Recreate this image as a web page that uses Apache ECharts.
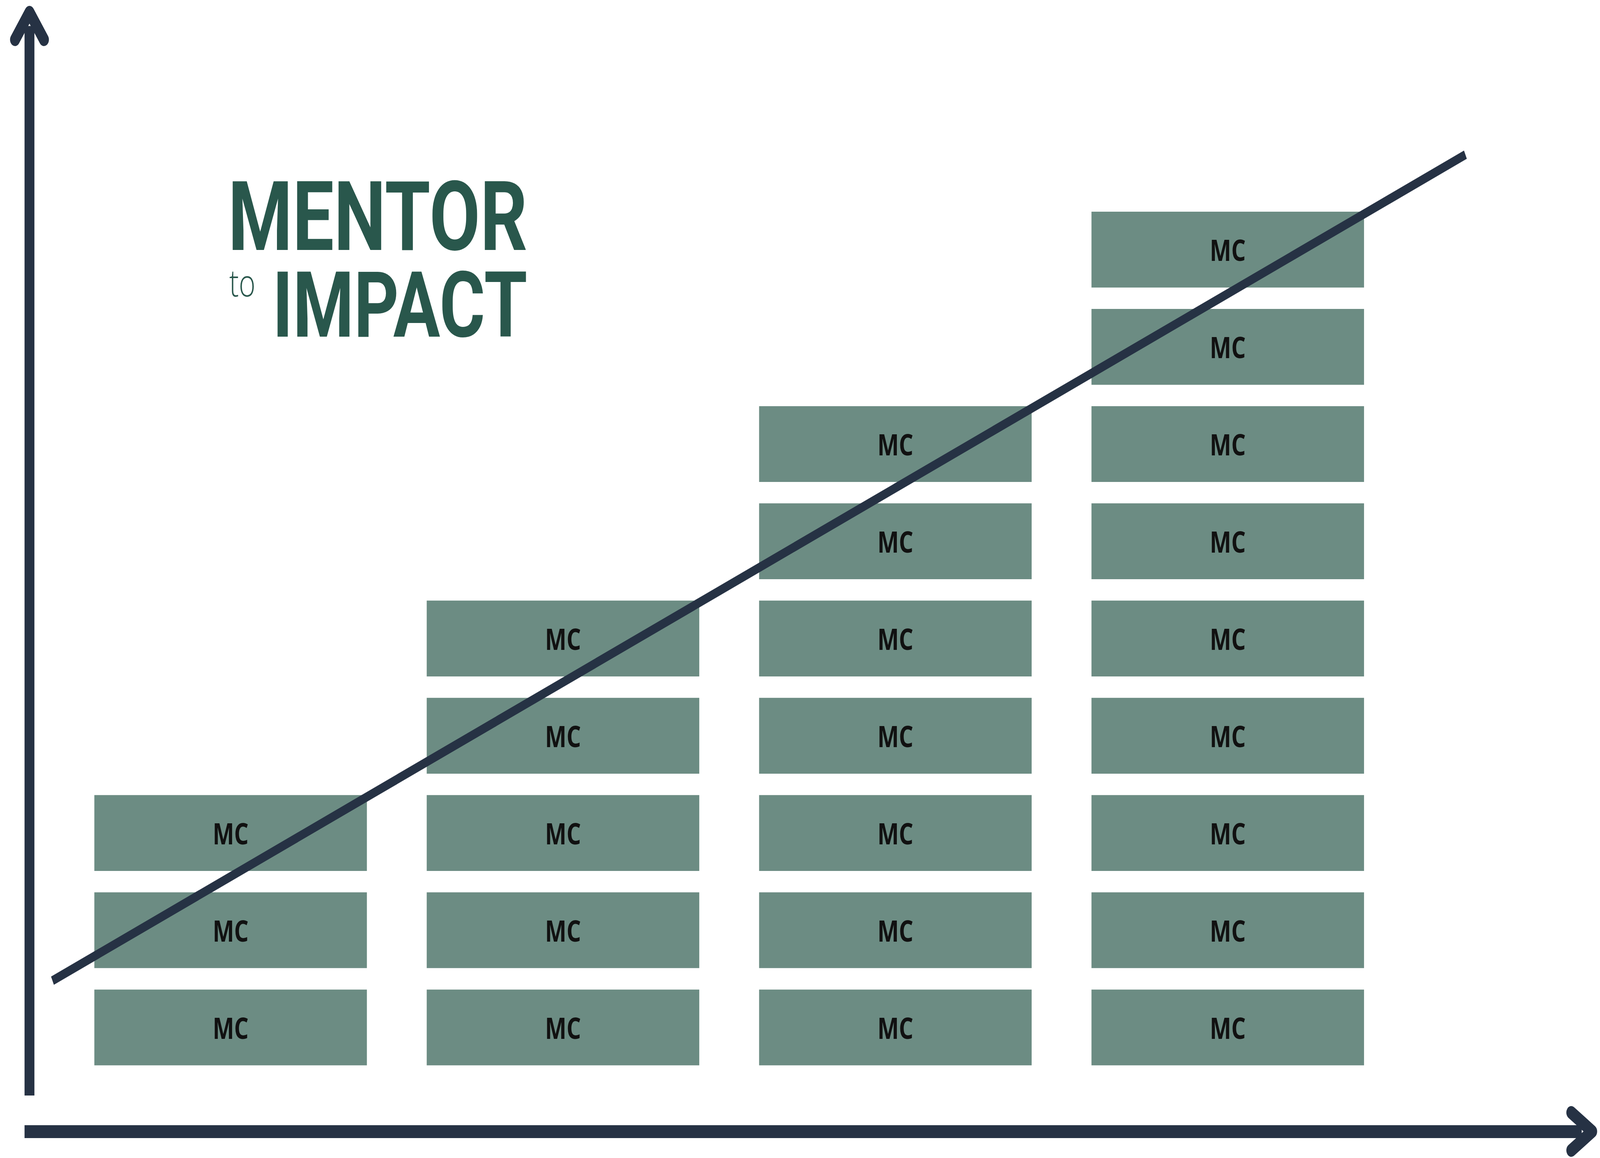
<!DOCTYPE html>
<html>
<head>
<meta charset="utf-8">
<title>Mentor to Impact</title>
<script src="https://cdn.jsdelivr.net/npm/echarts@6/dist/echarts.min.js"></script>
<style>
  html, body { margin: 0; padding: 0; background: #ffffff; overflow: hidden; }
  #wrap { width: 5346px; height: 2965px; transform-origin: 0 0; }
  #chart { width: 5346px; height: 2965px; }
</style>
</head>
<body>
<div id="wrap"><div id="chart"></div></div>
<script>
// ---------------- data ----------------
const columns = [1, 2, 3, 4];            // x position of each stack
const blockCounts = [3, 5, 7, 9];        // number of "MC" blocks per stack
const blockLabel = 'MC';
const trendX = [0.464, 4.715];           // trend line start / end (x)
const trendY = [0.871, 9.366];           // trend line start / end (y)
const titleLines = ['MENTOR', 'to', 'IMPACT'];

// ---------------- styles ----------------
const BLOCK_W = 0.82;   // in x units
const BLOCK_H = 0.78;   // in y units
const AXIS_COLOR = '#263244';
const BLOCK_COLOR = '#6c8c83';
const TITLE_COLOR = '#29574c';
const CHEVRON = 'path://M-62.06 60.61 L-13.56 -9.39 A16.5 16.5 0 0 1 13.56 -9.39 L62.06 60.61 A16.5 16.5 0 0 1 34.94 79.39 L0 28.92 L-34.94 79.39 A16.5 16.5 0 0 1 -62.06 60.61 Z';

// fit the 5346x2965 design into whatever viewport the page gets
function fit() {
  const sx = window.innerWidth / 5346, sy = window.innerHeight / 2965;
  document.getElementById('wrap').style.transform = 'scale(' + sx + ',' + sy + ')';
}
fit();
window.addEventListener('resize', fit);

const blocks = [];
columns.forEach(function (c, i) {
  for (let k = 0; k < blockCounts[i]; k++) blocks.push([c, k]);
});
const trendData = trendX.map(function (x, i) { return [x, trendY[i]]; });

const chart = echarts.init(document.getElementById('chart'), null, { renderer: 'svg', width: 5346, height: 2965 });
chart.setOption({
  animation: false,
  backgroundColor: '#ffffff',
  title: [
    { text: titleLines[0], right: 3584, top: 461, padding: 0,
      textStyle: { fontFamily: 'Roboto', fontWeight: 700, fontSize: 246, lineHeight: 190, color: TITLE_COLOR } },
    { text: titleLines[1], left: 766, top: 688, padding: 0,
      textStyle: { fontFamily: 'Open Sans', fontWeight: 300, fontSize: 95, lineHeight: 70, color: TITLE_COLOR } },
    { text: titleLines[2], right: 3584, top: 692, padding: 0,
      textStyle: { fontFamily: 'Roboto', fontWeight: 700, fontSize: 233, lineHeight: 180, color: TITLE_COLOR } }
  ],
  grid: { left: 82, right: 61, top: 66.5, bottom: 160, containLabel: false },
  xAxis: {
    type: 'value', min: 0.38, max: 5.065, position: 'bottom', offset: 92,
    axisLine: { show: true, onZero: false, symbol: ['none', CHEVRON], symbolSize: [130, 103],
      lineStyle: { color: AXIS_COLOR, width: 33, cap: 'butt' } },
    axisTick: { show: false }, axisLabel: { show: false }, splitLine: { show: false }
  },
  yAxis: {
    type: 'value', min: -0.31, max: 10.69, position: 'left', offset: -16.5,
    axisLine: { show: true, onZero: false, symbol: ['none', CHEVRON], symbolSize: [130, 103],
      lineStyle: { color: AXIS_COLOR, width: 33, cap: 'butt' } },
    axisTick: { show: false }, axisLabel: { show: false }, splitLine: { show: false }
  },
  series: [
    {
      type: 'custom',
      data: blocks,
      z: 2,
      renderItem: function (params, api) {
        const x = api.value(0), lv = api.value(1);
        const p0 = api.coord([x - BLOCK_W / 2, lv + BLOCK_H]);
        const p1 = api.coord([x + BLOCK_W / 2, lv]);
        return {
          type: 'group',
          children: [
            { type: 'rect',
              shape: { x: p0[0], y: p0[1], width: p1[0] - p0[0], height: p1[1] - p0[1] },
              style: { fill: BLOCK_COLOR } },
            { type: 'text',
              x: (p0[0] + p1[0]) / 2, y: (p0[1] + p1[1]) / 2,
              style: { text: blockLabel, fill: '#111111', font: '700 76px "Open Sans"',
                align: 'center', verticalAlign: 'middle' } }
          ]
        };
      }
    },
    {
      type: 'line',
      data: trendData,
      z: 5,
      symbol: 'none',
      lineStyle: { color: AXIS_COLOR, width: 23, cap: 'butt' }
    }
  ]
});
</script>
</body>
</html>
